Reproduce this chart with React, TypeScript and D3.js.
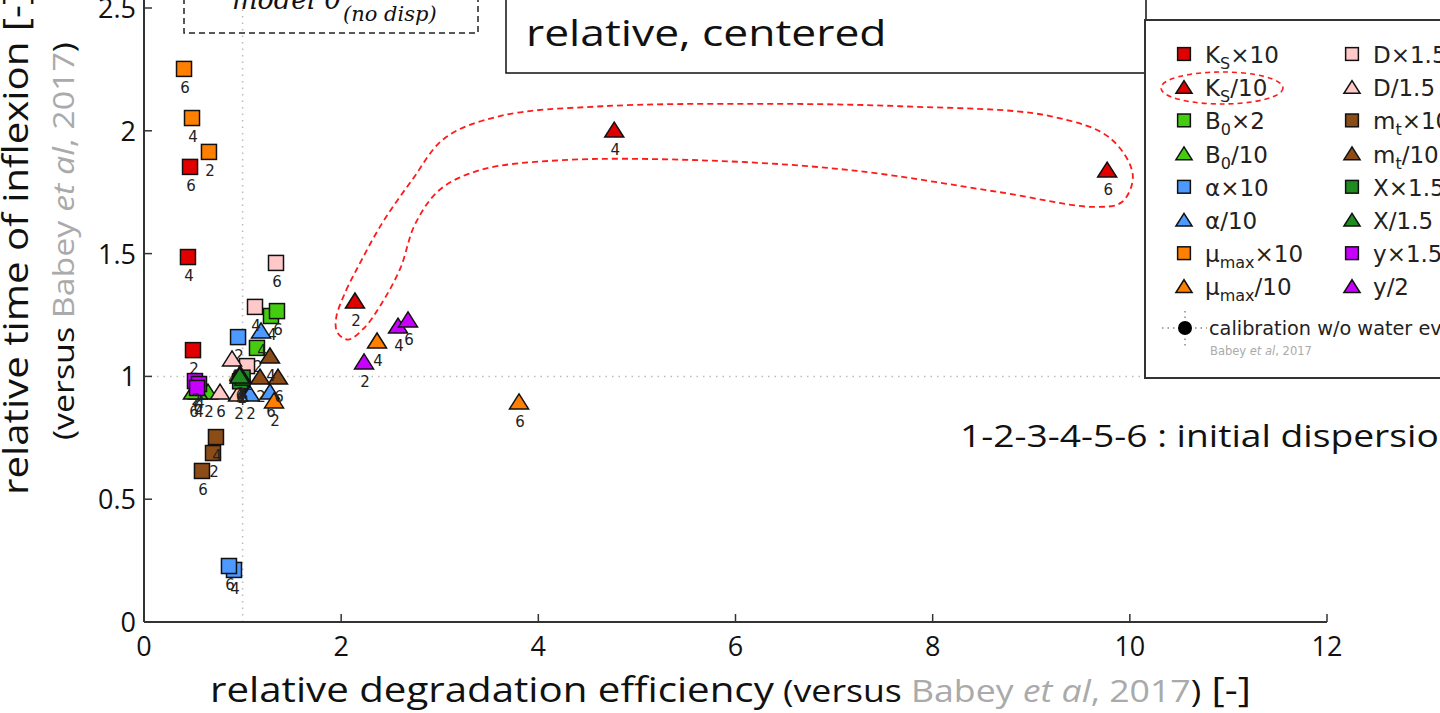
import * as d3 from "d3";

// relative degradation efficiency, relative time of inflexion, initial dispersion id
const ksTimes10 = [[0.467, 1.853, 6], [0.446, 1.486, 4], [0.497, 1.107, 2]];
const ksOver10 = [[2.14, 1.303, 2], [4.77, 1.999, 4], [9.77, 1.836, 6]];
const b0Times2 = [[1.146, 1.116, 2], [1.288, 1.246, 4], [1.349, 1.266, 6]];
const b0Over10 = [[0.649, 0.932, 2], [0.548, 0.932, 4], [0.497, 0.932, 6]];
const alphaTimes10 = [[0.954, 1.16, 2], [0.913, 0.212, 4], [0.862, 0.228, 6]];
const alphaOver10 = [[1.075, 0.924, 2], [1.187, 1.181, 4], [1.278, 0.932, 6]];
const muTimes10 = [[0.659, 1.914, 2], [0.487, 2.052, 4], [0.406, 2.252, 6]];
const muOver10 = [[1.319, 0.896, 2], [2.364, 1.14, 4], [3.804, 0.892, 6]];
const dTimes15 = [[1.045, 1.042, 2], [1.126, 1.283, 4], [1.339, 1.462, 6]];
const dOver15 = [[0.954, 0.924, 2], [0.893, 1.067, 4], [0.771, 0.932, 6]];
const mtTimes10 = [[0.7, 0.688, 2], [0.73, 0.753, 4], [0.588, 0.615, 6]];
const mtOver10 = [[1.177, 0.993, 2], [1.278, 1.079, 4], [1.359, 0.993, 6]];
const xTimes15 = [[0.99, 0.99, 2], [0.975, 0.98, 4], [1.0, 0.995, 6]];
const xOver15 = [[0.974, 1.006, 2], [0.98, 1.0, 4], [0.97, 0.998, 6]];
const yTimes15 = [[0.517, 0.981, 2], [0.558, 0.969, 4], [0.538, 0.953, 6]];
const yOver2 = [[2.232, 1.055, 2], [2.577, 1.201, 4], [2.678, 1.226, 6]];

const calibration = [1.03, 0.93];

const xTicks = [0, 2, 4, 6, 8, 10, 12];
const yTicks = [0, 0.5, 1, 1.5, 2, 2.5];

// red dashed outline around the Ks/10 points (data coordinates)
const outline = [
  [1.95, 1.24], [2.05, 1.35], [2.15, 1.43], [2.41, 1.62], [2.72, 1.8], [3.05, 1.97],
  [3.61, 2.06], [4.65, 2.1], [6.15, 2.11], [7.67, 2.1], [9.19, 2.06], [9.8, 1.97],
  [10.03, 1.82], [9.92, 1.71], [9.65, 1.69], [8.68, 1.75], [7.16, 1.84], [5.64, 1.88],
  [4.22, 1.88], [3.41, 1.84], [3.0, 1.76], [2.75, 1.62], [2.6, 1.44], [2.4, 1.29],
  [2.24, 1.2], [2.07, 1.15], [1.96, 1.18],
];

const series = [
  { sym: "K", sub: "S", rest: "×10", color: "#e00000", shape: "sq", pts: ksTimes10 },
  { sym: "K", sub: "S", rest: "/10", color: "#e00000", shape: "tri", pts: ksOver10 },
  { sym: "B", sub: "0", rest: "×2", color: "#44cc11", shape: "sq", pts: b0Times2 },
  { sym: "B", sub: "0", rest: "/10", color: "#44cc11", shape: "tri", pts: b0Over10 },
  { sym: "α", sub: "", rest: "×10", color: "#4c9aff", shape: "sq", pts: alphaTimes10 },
  { sym: "α", sub: "", rest: "/10", color: "#4c9aff", shape: "tri", pts: alphaOver10 },
  { sym: "μ", sub: "max", rest: "×10", color: "#ff8000", shape: "sq", pts: muTimes10 },
  { sym: "μ", sub: "max", rest: "/10", color: "#ff8000", shape: "tri", pts: muOver10 },
  { sym: "D", sub: "", rest: "×1.5", color: "#ffc9c9", shape: "sq", pts: dTimes15 },
  { sym: "D", sub: "", rest: "/1.5", color: "#ffc9c9", shape: "tri", pts: dOver15 },
  { sym: "m", sub: "t", rest: "×10", color: "#8b4c17", shape: "sq", pts: mtTimes10 },
  { sym: "m", sub: "t", rest: "/10", color: "#8b4c17", shape: "tri", pts: mtOver10 },
  { sym: "X", sub: "", rest: "×1.5", color: "#1e8c1e", shape: "sq", pts: xTimes15 },
  { sym: "X", sub: "", rest: "/1.5", color: "#1e8c1e", shape: "tri", pts: xOver15 },
  { sym: "y", sub: "", rest: "×1.5", color: "#c800ff", shape: "sq", pts: yTimes15 },
  { sym: "y", sub: "", rest: "/2", color: "#c800ff", shape: "tri", pts: yOver2 },
];

const SANS = "'Open Sans', sans-serif";
const DV = "'DejaVu Sans', sans-serif";
const GRAY = "#aaa";

function Marker({ shape, x, y, color, s = 1 }) {
  if (shape === "sq") {
    const h = 7.5 * s;
    return <rect x={x - h} y={y - h} width={2 * h} height={2 * h} fill={color} stroke="#111" strokeWidth={1.5} />;
  }
  const p = `${x},${y - 9 * s} ${x + 9.5 * s},${y + 6 * s} ${x - 9.5 * s},${y + 6 * s}`;
  return <polygon points={p} fill={color} stroke="#111" strokeWidth={1.5} />;
}

export default function App() {
  const x = d3.scaleLinear().domain([0, 12]).range([144, 1327]);
  const y = d3.scaleLinear().domain([0, 2.5]).range([622, 8]);

  const outlinePath = d3
    .line()
    .x((d) => x(d[0]))
    .y((d) => y(d[1]))
    .curve(d3.curveCatmullRomClosed.alpha(0.5))(outline);

  const rowH = 33.2;

  return (
    <svg width={1440} height={713} style={{ position: "absolute", left: 0, top: 0, background: "#fff" }}>
      <rect width={1440} height={713} fill="#fff" />

      {/* reference lines at 1 */}
      <line x1={x(1)} x2={x(1)} y1={y(0)} y2={0} stroke="#bbb" strokeWidth={1.5} strokeDasharray="1.5 5" />
      <line x1={x(0)} x2={1440} y1={y(1)} y2={y(1)} stroke="#bbb" strokeWidth={1.5} strokeDasharray="1.5 5" />

      {/* model 0 box */}
      <rect x={184} y={-20} width={294} height={53} fill="none" stroke="#222" strokeWidth={1.5} strokeDasharray="6 4" />
      <text x={232} y={9} fontFamily="'DejaVu Serif', serif" fontStyle="italic" fontSize={27} fill="#111">
        model 0
        <tspan x={343} y={21} fontSize={21}>(no disp)</tspan>
      </text>

      {/* relative, centered box */}
      <rect x={506} y={-5} width={640} height={78} fill="#fff" stroke="#111" strokeWidth={1.5} />
      <g transform="translate(526,46) scale(1.2,1)">
        <text fontFamily={SANS} fontSize={37} fill="#111">relative, centered</text>
      </g>

      {/* axes */}
      <line x1={x(0)} x2={x(0)} y1={y(0)} y2={0} stroke="#333" strokeWidth={2} />
      <line x1={x(0)} x2={x(12)} y1={y(0)} y2={y(0)} stroke="#333" strokeWidth={2} />
      {yTicks.map((t) => (
        <g key={"y" + t}>
          <line x1={x(0)} x2={x(0) + 8} y1={y(t)} y2={y(t)} stroke="#333" strokeWidth={1.5} />
          <text x={136} y={y(t) + 10} textAnchor="end" fontFamily={SANS} fontSize={27} fill="#111">{t}</text>
        </g>
      ))}
      {xTicks.map((t) => (
        <g key={"x" + t}>
          <line x1={x(t)} x2={x(t)} y1={y(0)} y2={y(0) - 8} stroke="#333" strokeWidth={1.5} />
          <text x={x(t)} y={656} textAnchor="middle" fontFamily={SANS} fontSize={27} fill="#111">{t}</text>
        </g>
      ))}

      {/* axis titles */}
      <g transform="translate(28,495) rotate(-90) scale(1.15,1)">
        <text fontFamily={SANS} fontSize={35} fill="#111">relative time of inflexion [-]</text>
      </g>
      <g transform="translate(74,241) rotate(-90) scale(1.15,1)">
        <text textAnchor="middle" fontFamily={SANS} fontSize={29.5} fill="#111">
          (versus <tspan fill={GRAY}>Babey </tspan>
          <tspan fill={GRAY} fontStyle="italic">et al</tspan>
          <tspan fill={GRAY}>, 2017</tspan>)
        </text>
      </g>
      <g transform="translate(210,702) scale(1.15,1)">
        <text fontFamily={SANS} fontSize={35} fill="#111">
          relative degradation efficiency
          <tspan fontSize={31}> (versus </tspan>
          <tspan fontSize={31} fill={GRAY}>Babey </tspan>
          <tspan fontSize={31} fill={GRAY} fontStyle="italic">et al</tspan>
          <tspan fontSize={31} fill={GRAY}>, 2017</tspan>
          <tspan fontSize={31}>)</tspan>
          <tspan> [-]</tspan>
        </text>
      </g>

      {/* calibration point */}
      <circle cx={x(calibration[0])} cy={y(calibration[1])} r={7} fill="#000" />

      {/* points */}
      {series.map((s, si) => (
        <g key={"s" + si}>
          {s.pts.map((p, i) => (
            <Marker key={i} shape={s.shape} x={x(p[0])} y={y(p[1])} color={s.color} />
          ))}
          {s.pts.map((p, i) => (
            <text key={"l" + i} x={x(p[0]) + 1} y={y(p[1]) + 24} textAnchor="middle" fontFamily={DV} fontSize={15} fill="#222">
              {p[2]}
            </text>
          ))}
        </g>
      ))}

      {/* outline around Ks/10 */}
      <path d={outlinePath} fill="none" stroke="#ff1a1a" strokeWidth={1.8} strokeDasharray="6 4" />

      <g transform="translate(960,447) scale(1.22,1)">
        <text fontFamily={SANS} fontSize={30.5} fill="#111">1-2-3-4-5-6 : initial dispersion</text>
      </g>

      {/* legend */}
      <rect x={1145} y={20} width={320} height={358} fill="#fff" stroke="#333" strokeWidth={2} />
      {series.map((s, i) => {
        const mx = i < 8 ? 1184 : 1352;
        const cy = 54 + (i % 8) * rowH;
        return (
          <g key={"lg" + i}>
            <Marker shape={s.shape} x={mx} y={cy + (s.shape === "tri" ? 1 : 0)} color={s.color} s={0.85} />
            <text x={mx + 21} y={cy + 9} fontFamily={DV} fontSize={23} fill="#222">
              {s.sym}
              {s.sub ? <tspan fontSize={16} dy={6}>{s.sub}</tspan> : null}
              {s.sub ? <tspan dy={-6}>{s.rest}</tspan> : <tspan>{s.rest}</tspan>}
            </text>
          </g>
        );
      })}
      <ellipse cx={1222} cy={88} rx={61} ry={16} fill="none" stroke="#ff1a1a" strokeWidth={1.6} strokeDasharray="5 4" />
      <line x1={1162} x2={1207} y1={328} y2={328} stroke="#888" strokeWidth={1.5} strokeDasharray="1.5 4" />
      <line x1={1185} x2={1185} y1={311} y2={346} stroke="#888" strokeWidth={1.5} strokeDasharray="1.5 4" />
      <circle cx={1185} cy={328} r={7} fill="#000" />
      <text x={1209} y={335} fontFamily={DV} fontSize={19.3} fill="#222">calibration w/o water evaporation</text>
      <text x={1210} y={355} fontFamily={DV} fontSize={11.5} fill={GRAY}>
        Babey <tspan fontStyle="italic">et al</tspan>, 2017
      </text>
    </svg>
  );
}
